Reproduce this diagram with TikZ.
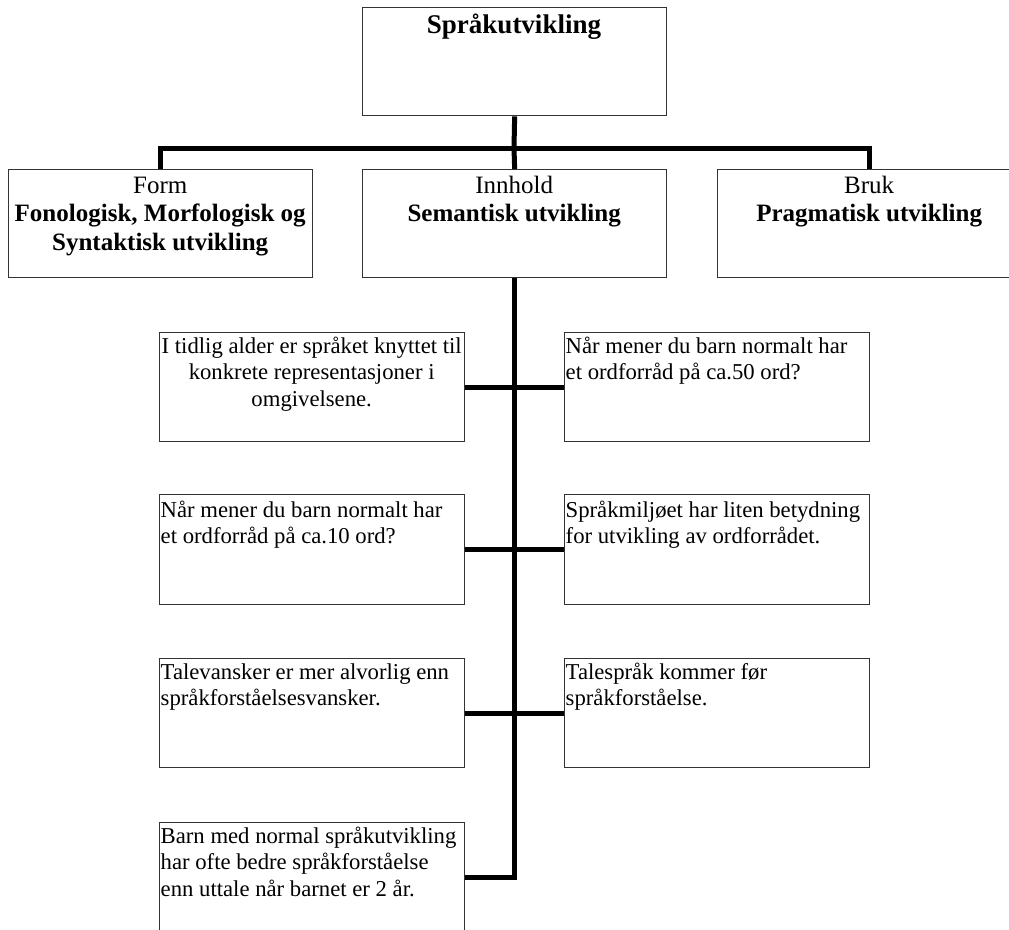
\documentclass[tikz,border=0pt]{standalone}
\usepackage{fontspec}
\setmainfont{Liberation Serif}
\newcommand\smalltxt[1]{\parbox[t]{300pt}{\fontsize{22.7}{26.7}\selectfont\raggedright #1}}
\newcommand\smallctr[1]{\parbox[t]{305pt}{\fontsize{22.7}{26.7}\selectfont\centering #1}}
\newcommand\headtxt[1]{\parbox[t]{304pt}{\fontsize{25}{28.5}\selectfont\centering #1}}
\begin{document}
\begin{tikzpicture}[x=1pt,y=-1pt,
  box/.style={draw=black!80, line width=1.3pt, fill=white, inner sep=0pt, anchor=north west},
  bigbox/.style={box, minimum width=304pt, minimum height=108pt},
  smallbox/.style={box, minimum width=305pt, minimum height=109pt},
  conn/.style={line width=5pt, line join=miter, black},
  txt/.style={anchor=base west, inner sep=0pt}]
\useasboundingbox (0,0) rectangle (1009,929);
% connectors
\coordinate (hub) at (514,148);
\coordinate (sp1) at (514,387);
% boxes
\node[bigbox] (top) at (362,7) {};
\node[bigbox] (form) at (8,169) {};
\node[bigbox] (innhold) at (362,169) {};
\node[bigbox] (bruk) at (717,169) {};
\node[smallbox] (l1) at (159,332) {};
\node[smallbox] (r1) at (564,332) {};
\node[smallbox, minimum height=110pt] (l2) at (159,494) {};
\node[smallbox, minimum height=110pt] (r2) at (564,494) {};
\node[smallbox] (l3) at (159,658) {};
\node[smallbox] (r3) at (564,658) {};
\node[smallbox, minimum height=110pt] (l4) at (159,822) {};
\draw[conn] (top.south) -- (hub);
\draw[conn] (form.north) |- (hub) -| (bruk.north);
\draw[conn] (hub) -- (innhold.north);
\draw[conn] (innhold.south) |- (l4.east);
\draw[conn] (l1.east) -- (r1.west);
\draw[conn] (l2.east) -- (r2.west);
\draw[conn] (l3.east) -- (r3.west);
% texts
\node[anchor=base, inner sep=0pt] (toptxt) at (514,33) {\fontsize{27}{32}\selectfont\bfseries Språkutvikling};
\node[txt] (formtxt) at (8,193) {\headtxt{Form\\\textbf{Fonologisk, Morfologisk og}\\\textbf{Syntaktisk utvikling}}};
\node[txt] (innholdtxt) at (362,193) {\headtxt{Innhold\\\textbf{Semantisk utvikling}}};
\node[txt] (bruktxt) at (717,193) {\headtxt{Bruk\\\textbf{Pragmatisk utvikling}}};
\node[txt] (l1txt) at (159,353) {\smallctr{I tidlig alder er språket knyttet til\\konkrete representasjoner i\\omgivelsene.}};
\node[txt] (r1txt) at (565.5,353) {\smalltxt{Når mener du barn normalt har\\et ordforråd på ca.50 ord?}};
\node[txt] (l2txt) at (160.5,517) {\smalltxt{Når mener du barn normalt har\\et ordforråd på ca.10 ord?}};
\node[txt] (r2txt) at (565.5,517) {\smalltxt{Språkmiljøet har liten betydning\\for utvikling av ordforrådet.}};
\node[txt] (l3txt) at (160.5,679) {\smalltxt{Talevansker er mer alvorlig enn\\språkforståelsesvansker.}};
\node[txt] (r3txt) at (565.5,679) {\smalltxt{Talespråk kommer før\\språkforståelse.}};
\node[txt] (l4txt) at (160.5,843) {\smalltxt{Barn med normal språkutvikling\\har ofte bedre språkforståelse\\enn uttale når barnet er 2 år.}};
\end{tikzpicture}
\end{document}
